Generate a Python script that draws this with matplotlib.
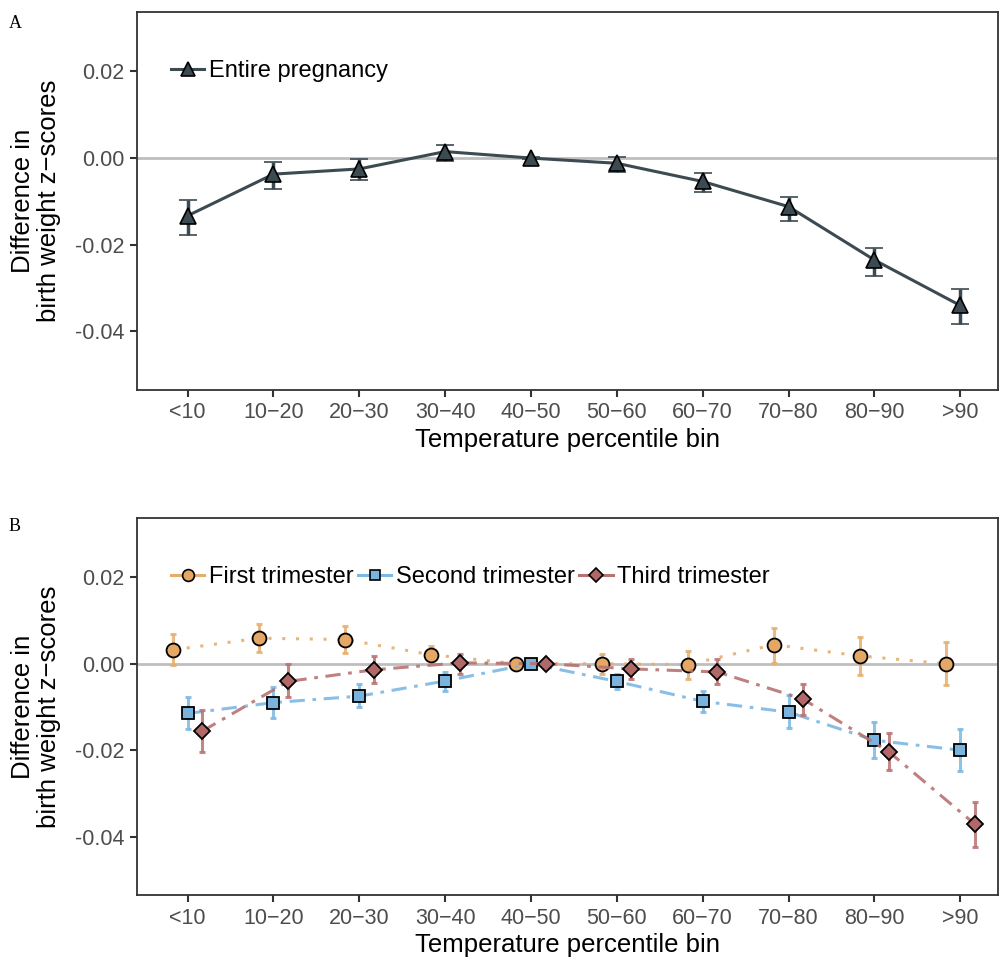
import matplotlib
matplotlib.use("Agg")
import matplotlib.pyplot as plt
import numpy as np

plt.rcParams["font.family"] = ["Liberation Sans", "DejaVu Sans"]

bins = ["<10", "10\u221220", "20\u221230", "30\u221240", "40\u221250",
        "50\u221260", "60\u221270", "70\u221280", "80\u221290", ">90"]

# panel A: entire pregnancy
entire = [-0.0133, -0.0037, -0.0025, 0.0015, 0.0, -0.0012, -0.0054, -0.0112, -0.0235, -0.0340]
entire_lo = [-0.0177, -0.0071, -0.0050, -0.0007, -0.0003, -0.0032, -0.0079, -0.0144, -0.0272, -0.0382]
entire_hi = [-0.0096, -0.0010, -0.0003, 0.0030, 0.0003, 0.0003, -0.0034, -0.0089, -0.0207, -0.0301]

# panel B: trimesters
first = [0.0032, 0.0059, 0.0056, 0.0021, 0.0, 0.0, -0.0002, 0.0044, 0.0018, 0.0]
first_lo = [-0.0002, 0.0027, 0.0025, 0.0, -0.0002, -0.0023, -0.0035, 0.0002, -0.0027, -0.0050]
first_hi = [0.0068, 0.0092, 0.0088, 0.0042, 0.0002, 0.0023, 0.0030, 0.0082, 0.0062, 0.0051]

second = [-0.0115, -0.0090, -0.0075, -0.0040, 0.0, -0.0041, -0.0087, -0.0112, -0.0177, -0.0200]
second_lo = [-0.0152, -0.0125, -0.0101, -0.0062, -0.0002, -0.0059, -0.0112, -0.0149, -0.0219, -0.0248]
second_hi = [-0.0077, -0.0054, -0.0046, -0.0019, 0.0002, -0.0023, -0.0062, -0.0073, -0.0135, -0.0150]

third = [-0.0156, -0.0041, -0.0014, 0.0002, 0.0, -0.0012, -0.0019, -0.0082, -0.0204, -0.0371]
third_lo = [-0.0204, -0.0078, -0.0044, -0.0023, -0.0002, -0.0036, -0.0048, -0.0119, -0.0246, -0.0423]
third_hi = [-0.0108, -0.0001, 0.0018, 0.0023, 0.0002, 0.0012, 0.0012, -0.0046, -0.0161, -0.0321]

x = np.arange(1, len(bins) + 1)
YMIN, YMAX = -0.0535, 0.0337

fig = plt.figure(figsize=(10, 9.6), dpi=100)
axA = fig.add_axes([0.137, 0.59375, 0.861, 0.39375])
axB = fig.add_axes([0.137, 0.0677, 0.861, 0.3927])


def style(ax):
    ax.axhline(0, color="#BEBEBE", lw=2, zorder=0)
    ax.set_xlim(0.41, 10.44)
    ax.set_ylim(YMIN, YMAX)
    ax.set_xticks(x)
    ax.set_xticklabels(bins)
    ax.set_yticks([0.02, 0.0, -0.02, -0.04])
    ax.set_yticklabels(["0.02", "0.00", "-0.02", "-0.04"])
    ax.tick_params(axis="both", direction="out", length=5, width=1.5,
                   color="#333333", labelcolor="#4D4D4D", labelsize=15.5, pad=4)
    for s in ax.spines.values():
        s.set_color("#333333")
        s.set_linewidth(1.3)
    ax.set_xlabel("Temperature percentile bin", fontsize=18.5, labelpad=3)
    ax.set_ylabel("Difference in\nbirth weight z\u2212scores", fontsize=18.5, labelpad=10,
                  linespacing=1.1)


def err(vals, lo, hi):
    v = np.array(vals)
    return [v - np.array(lo), np.array(hi) - v]


# legend anchored at the 0.02 level
leg_y = (0.02 - YMIN) / (YMAX - YMIN)
leg_x = 0.0285

# panel A
style(axA)
dark = "#3C4A51"
axA.errorbar(x, entire, yerr=err(entire, entire_lo, entire_hi), color=dark, lw=2.2,
             marker="^", ms=11, mfc=dark, mec="black", mew=1.2, ecolor=dark,
             elinewidth=2.5, capsize=6.5, capthick=2.5)
axA.plot([], [], color=dark, lw=2.2, marker="^", ms=10, mfc=dark, mec="black", mew=1.2,
         label="Entire pregnancy")
axA.legend(loc="center left", bbox_to_anchor=(leg_x, leg_y), frameon=False, fontsize=17,
           handlelength=1.4, handletextpad=0.2, borderaxespad=0)

# panel B
style(axB)
d = 0.17
series = [
    (first, first_lo, first_hi, -d, "o", "#E6AE6E", "#E5A765", (0, (1, 3.5)), "First trimester", 10),
    (second, second_lo, second_hi, 0.0, "s", "#7CB8E3", "#79B3DE", (0, (5, 2.5, 1.2, 2.5)), "Second trimester", 9),
    (third, third_lo, third_hi, d, "D", "#B87272", "#B06868", (0, (5, 2.5, 1.2, 2.5)), "Third trimester", 8.5),
]
for vals, lo, hi, off, mk, lc, fc, ls, lab, ms in series:
    xx = x + off
    axB.errorbar(xx, vals, yerr=err(vals, lo, hi), fmt="none", ecolor=lc,
                 elinewidth=2.2, capsize=2, capthick=2.2, alpha=0.85)
    axB.plot(xx, vals, color=lc, lw=2.2, ls=ls, alpha=0.9)
    axB.plot(xx, vals, ls="none", marker=mk, ms=ms, mfc=fc, mec="black", mew=1.3)
    axB.plot([], [], color=lc, lw=2.2, marker=mk, ms=ms * 0.85, mfc=fc, mec="black",
             mew=1.2, label=lab)
axB.legend(loc="center left", bbox_to_anchor=(leg_x, leg_y), frameon=False, fontsize=17,
           ncol=3, handlelength=1.4, handletextpad=0.2, columnspacing=0.2,
           borderaxespad=0)

fig.text(0.009, 0.971, "A", family=["Liberation Serif"], fontsize=13, va="baseline")
fig.text(0.009, 0.447, "B", family=["Liberation Serif"], fontsize=13, va="baseline")

fig.savefig("out.png", dpi=100)
